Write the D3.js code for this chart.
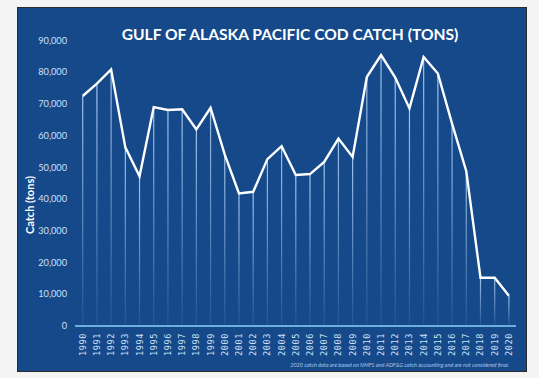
<!DOCTYPE html>
<html>
<head>
<meta charset="utf-8">
<script src="https://cdn.jsdelivr.net/npm/d3@7"></script>
<style>
  body { margin: 0; background: #f4f4f4; }
  svg { display: block; }
</style>
</head>
<body>
<div id="chart"></div>
<script>
// catch per year, tons
const years = d3.range(1990, 2021).map(String);
const catchTons = [
  72500, 76400, 80900, 56300, 47200, 69000, 68100, 68300, 62000, 68800,
  54000, 41800, 42300, 52600, 56700, 47600, 47900, 51700, 59100, 53300,
  78500, 85400, 78300, 68600, 84800, 79600, 63800, 48800, 15200, 15200, 9500
];
const yTicks = [0, 10000, 20000, 30000, 40000, 50000, 60000, 70000, 80000, 90000];

const width = 539, height = 378;
const data = years.map((y, i) => ({year: y, value: catchTons[i]}));

const svg = d3.select("#chart").append("svg")
    .attr("width", width)
    .attr("height", height);

const defs = svg.append("defs");
const grad = defs.append("linearGradient")
    .attr("id", "drop")
    .attr("x1", 0).attr("y1", 0).attr("x2", 0).attr("y2", 1);
grad.append("stop").attr("offset", "0%").attr("stop-color", "#a9cdf5").attr("stop-opacity", 0.95);
grad.append("stop").attr("offset", "100%").attr("stop-color", "#a9cdf5").attr("stop-opacity", 0.08);

// panel
svg.append("rect")
    .attr("x", 17.5).attr("y", 7.5)
    .attr("width", 509).attr("height", 364)
    .attr("fill", "#15498a")
    .attr("stroke", "#2b2b2b");

const x = d3.scaleBand().domain(years).range([75.6, 516]);
const y = d3.scaleLinear().domain([0, 90000]).range([326, 40.5]);
const cx = d => x(d.year) + x.bandwidth() / 2;

// drop lines
svg.append("g")
  .selectAll("rect")
  .data(data)
  .join("rect")
    .attr("x", d => cx(d) - 0.6)
    .attr("y", d => y(d.value))
    .attr("width", 1.2)
    .attr("height", d => y(0) - y(d.value))
    .attr("fill", "url(#drop)");

// baseline
svg.append("line")
    .attr("x1", 75).attr("x2", 516)
    .attr("y1", y(0)).attr("y2", y(0))
    .attr("stroke", "#8fd0f5")
    .attr("stroke-width", 1.5);

// the line
svg.append("path")
    .datum(data)
    .attr("fill", "none")
    .attr("stroke", "#ffffff")
    .attr("stroke-width", 2.4)
    .attr("stroke-linejoin", "miter")
    .attr("d", d3.line().x(cx).y(d => y(d.value)));

// y axis labels
svg.append("g")
    .style("font", "9.2px Lato, 'DejaVu Sans', sans-serif")
  .selectAll("text")
  .data(yTicks)
  .join("text")
    .attr("x", 67)
    .attr("y", d => y(d))
    .attr("dy", "0.35em")
    .attr("text-anchor", "end")
    .attr("fill", "#cfe0f7")
    .text(d => d3.format(",")(d));

// x axis labels
svg.append("g")
    .style("font", "8.6px 'DejaVu Sans Mono', monospace")
  .selectAll("text")
  .data(years)
  .join("text")
    .attr("transform", d => `translate(${x(d) + x.bandwidth() / 2},${333}) rotate(-90)`)
    .attr("text-anchor", "end")
    .attr("dy", "0.35em")
    .attr("letter-spacing", 0.6)
    .attr("fill", "#cfe0f7")
    .text(d => d);

// y title
svg.append("text")
    .attr("transform", "translate(30,205) rotate(-90)")
    .attr("text-anchor", "middle")
    .attr("dy", "0.35em")
    .style("font", "bold 11px Lato, sans-serif")
    .attr("fill", "#ffffff")
    .text("Catch (tons)");

// title
svg.append("text")
    .attr("x", 290)
    .attr("y", 35)
    .attr("dy", "0.35em")
    .attr("text-anchor", "middle")
    .style("font", "bold 15.6px Lato, sans-serif")
    .attr("fill", "#ffffff")
    .text("GULF OF ALASKA PACIFIC COD CATCH (TONS)");

// footnote
svg.append("text")
    .attr("x", 509)
    .attr("y", 367)
    .attr("text-anchor", "end")
    .style("font", "italic 5.5px Lato, sans-serif")
    .attr("fill", "#a9c6ea")
    .text("2020 catch data are based on NMFS and ADF&G catch accounting and are not considered final.");
</script>
</body>
</html>
